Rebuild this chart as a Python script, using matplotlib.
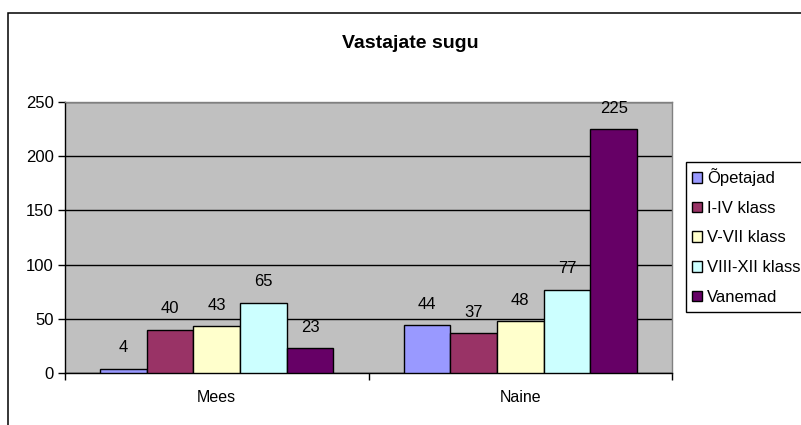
import matplotlib
matplotlib.use("Agg")
import matplotlib.pyplot as plt
from matplotlib.patches import Rectangle
import numpy as np

plt.rcParams['font.family'] = ['Liberation Sans', 'DejaVu Sans']

categories = ["Mees", "Naine"]
series_names = ["Õpetajad", "I-IV klass", "V-VII klass", "VIII-XII klass", "Vanemad"]
opetajad = [4, 44]
klass_1_4 = [40, 37]
klass_5_7 = [43, 48]
klass_8_12 = [65, 77]
vanemad = [23, 225]
series_values = [opetajad, klass_1_4, klass_5_7, klass_8_12, vanemad]
colors = ["#9999FF", "#993366", "#FFFFCC", "#CCFFFF", "#660066"]
yticks = [0, 50, 100, 150, 200, 250]

W, H = 801, 425
fig = plt.figure(figsize=(W / 100, H / 100), dpi=100)
fig.patch.set_facecolor("white")

# outer chart border (extends beyond right and bottom edges)
fig.add_artist(Rectangle((8 / W, -0.2), 1.2, 1.2 - 13 / H, transform=fig.transFigure,
                         fill=False, edgecolor="black", linewidth=1.1))

left, right, top, bottom = 65, 672, 102, 373
ax = fig.add_axes([left / W, 1 - bottom / H, (right - left) / W, (bottom - top) / H])
ax.set_facecolor("#C0C0C0")

n = len(series_values)
w = 1 / (n + 1.5)
x = np.arange(len(categories))
for i, (name, vals, c) in enumerate(zip(series_names, series_values, colors)):
    pos = x - 2.5 * w + w / 2 + i * w
    ax.bar(pos, vals, width=w, color=c, edgecolor="black", linewidth=1.0,
           label=name, zorder=3)
    for px, v in zip(pos, vals):
        ax.annotate(str(v), (px, v), xytext=(0, 15), textcoords="offset points",
                    ha="center", va="center", fontsize=12, color="black")

ax.set_xlim(-0.5, 1.5)
ax.set_ylim(0, 250)
ax.set_yticks(yticks)
ax.set_yticklabels([str(t) for t in yticks], fontsize=12)
ax.yaxis.grid(True, color="black", linewidth=1.0, zorder=1)
ax.set_axisbelow(True)
ax.set_xticks(x)
ax.set_xticklabels(categories, fontsize=11.5)
ax.tick_params(axis="x", which="major", length=0, pad=12)
ax.set_xticks([-0.5, 0.5, 1.5], minor=True)
ax.tick_params(axis="x", which="minor", length=5, width=1, direction="out")
ax.tick_params(axis="y", length=5, width=1, direction="out", pad=3)

for s in ["top", "right"]:
    ax.spines[s].set_color("#808080")
    ax.spines[s].set_linewidth(1.0)
for s in ["left", "bottom"]:
    ax.spines[s].set_color("black")
    ax.spines[s].set_linewidth(1.0)

fig.text(410 / W, 1 - 44 / H, "Vastajate sugu", ha="center", va="center",
         fontsize=14, fontweight="bold")

# legend frame extending beyond the right edge
fig.add_artist(Rectangle((686 / W, 1 - 312 / H), 0.5, 150 / H, transform=fig.transFigure,
                         fill=True, facecolor="white", edgecolor="black", linewidth=1.0))
handles, labels = ax.get_legend_handles_labels()
leg = fig.legend(handles, labels, loc="upper left",
                 bbox_to_anchor=(688 / W, 1 - 164 / H), frameon=False,
                 fontsize=12, handlelength=0.6, handleheight=0.6,
                 handletextpad=0.3, labelspacing=0.88, borderpad=0.25,
                 borderaxespad=0)

fig.savefig("out.png", dpi=100)
